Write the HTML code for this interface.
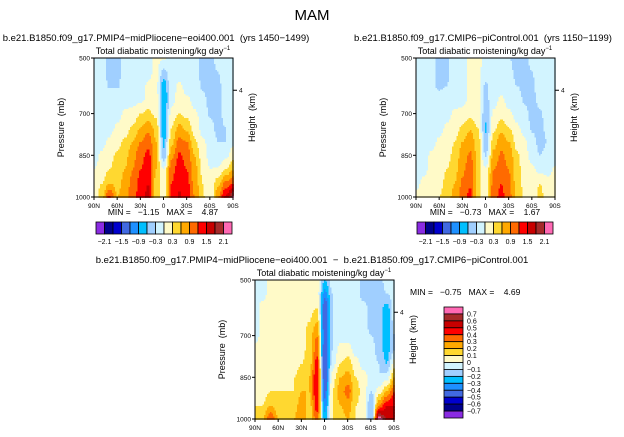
<!DOCTYPE html>
<html><head><meta charset="utf-8"><style>
html,body{margin:0;padding:0;background:#fff;}
svg{display:block;font-family:"Liberation Sans",sans-serif;}
text{white-space:pre;}
</style></head><body>
<svg id="s" width="624" height="437" viewBox="0 0 624 437" xmlns="http://www.w3.org/2000/svg">
<text x="312" y="20" font-size="15" text-anchor="middle">MAM</text>
<text x="156" y="41" font-size="9.5" text-anchor="middle">b.e21.B1850.f09_g17.PMIP4−midPliocene−eoi400.001  (yrs 1450−1499)</text>
<text x="163" y="54" font-size="9" text-anchor="middle">Total diabatic moistening/kg day<tspan font-size="6" dy="-4">−1</tspan></text>
<text x="483" y="41" font-size="9.5" text-anchor="middle">b.e21.B1850.f09_g17.CMIP6−piControl.001  (yrs 1150−1199)</text>
<text x="485" y="54" font-size="9" text-anchor="middle">Total diabatic moistening/kg day<tspan font-size="6" dy="-4">−1</tspan></text>
<text x="312" y="263" font-size="9.5" text-anchor="middle">b.e21.B1850.f09_g17.PMIP4−midPliocene−eoi400.001  −  b.e21.B1850.f09_g17.CMIP6−piControl.001</text>
<text x="324" y="276" font-size="9" text-anchor="middle">Total diabatic moistening/kg day<tspan font-size="6" dy="-4">−1</tspan></text>
<text x="163" y="215" font-size="8.5" text-anchor="middle">MIN =   −1.15   MAX =    4.87</text>
<text x="485" y="215" font-size="8.5" text-anchor="middle">MIN =   −0.73   MAX =    1.67</text>
<text x="410" y="295" font-size="8.5">MIN =   −0.75   MAX =    4.69</text>
</svg>
<script>
const lats=["90N","60N","30N","0","30S","60S","90S"];
const presTicks=[500,700,850,1000];
const levels1=[-2.1,-1.8,-1.5,-1.2,-0.9,-0.6,-0.3,0,0.3,0.6,0.9,1.2,1.5,1.8,2.1];
const levels3=[-0.7,-0.6,-0.5,-0.4,-0.3,-0.2,-0.1,0,0.1,0.2,0.3,0.4,0.5,0.6,0.7];
const cbLabels1=["−2.1","−1.5","−0.9","−0.3","0.3","0.9","1.5","2.1"];
const cbLabels3=["−0.7","−0.6","−0.5","−0.4","−0.3","−0.2","−0.1","0","0.1","0.2","0.3","0.4","0.5","0.6","0.7"];
const colors=["#8a2be2","#00008b","#0000cd","#4169e1","#1e90ff","#00bfff","#a0cfff","#d2f4ff","#fffac8","#ffd830","#ffa800","#ff6a00","#ff0000","#c80000","#a52a2a","#ff69b4"];
// rows: 500,550,...,1000 mb ; cols: 90N..90S every 10 deg
const field1=[
[-0.1,-0.2,-0.4,-0.4,-0.2,-0.1,-0.1,-0.1,0.1,0.05,-0.1,-0.1,-0.1,-0.2,-0.4,-0.4,-0.2,-0.1,-0.1],
[-0.1,-0.2,-0.4,-0.4,-0.2,-0.1,-0.1,-0.1,0.1,-0.4,-0.1,-0.1,-0.1,-0.2,-0.4,-0.4,-0.3,-0.1,-0.1],
[-0.1,-0.1,-0.35,-0.35,-0.1,-0.1,-0.1,0.05,0.1,-0.8,-0.1,0.05,-0.1,-0.1,-0.35,-0.4,-0.4,-0.1,-0.1],
[-0.1,-0.1,-0.1,-0.1,-0.1,-0.1,-0.1,0.1,0.15,-0.9,-0.1,0.1,0.05,-0.1,-0.2,-0.4,-0.4,-0.2,-0.1],
[-0.1,-0.1,-0.1,-0.1,0.05,0.1,0.3,0.4,0.2,-0.8,0.1,0.3,0.2,0.05,-0.1,-0.35,-0.4,-0.2,-0.1],
[-0.1,-0.1,-0.1,0.05,0.15,0.35,0.6,0.8,0.5,-0.8,0.3,0.7,0.5,0.15,-0.1,-0.2,-0.4,-0.3,-0.1],
[-0.1,-0.1,0.05,0.2,0.35,0.6,0.9,1.1,0.6,-0.7,0.5,1.0,0.9,0.35,0.05,-0.1,-0.3,-0.3,-0.1],
[-0.1,0.05,0.2,0.35,0.5,0.8,1.1,1.3,0.7,-0.5,0.8,1.25,1.1,0.6,0.15,-0.1,-0.2,-0.1,0.2],
[0.0,0.1,0.3,0.45,0.6,0.9,1.2,1.4,0.6,0.0,1.1,1.35,1.2,0.7,0.25,0.0,0.05,0.3,0.6],
[0.05,0.3,0.6,0.5,0.7,1.0,1.3,1.5,0.5,0.15,1.2,1.45,1.3,0.8,0.3,0.0,0.5,1.0,1.2],
[0.05,0.5,1.3,0.6,0.8,1.1,1.35,1.6,0.4,0.2,1.25,1.55,1.35,0.9,0.35,0.0,0.9,1.6,2.2]];
const field2=[
[-0.1,-0.1,-0.2,-0.4,-0.35,-0.1,-0.1,0.05,0.1,-0.1,-0.1,-0.1,-0.3,-0.4,-0.4,-0.2,-0.1,-0.1,-0.1],
[-0.1,-0.1,-0.2,-0.4,-0.35,-0.1,-0.1,0.05,0.1,-0.2,-0.1,-0.1,-0.2,-0.4,-0.4,-0.3,-0.1,-0.1,-0.1],
[-0.1,-0.1,-0.2,-0.4,-0.3,-0.1,-0.1,0.05,0.1,-0.35,-0.1,-0.1,-0.1,-0.3,-0.4,-0.35,-0.1,-0.1,-0.1],
[-0.1,-0.1,-0.1,-0.1,-0.1,-0.1,-0.1,0.05,0.1,-0.4,-0.1,0.05,-0.1,-0.1,-0.35,-0.4,-0.2,-0.1,-0.1],
[-0.1,-0.1,-0.1,-0.1,-0.1,0.05,0.1,0.2,0.1,-0.5,0.05,0.15,0.05,-0.1,-0.2,-0.4,-0.35,-0.1,-0.1],
[-0.1,-0.1,-0.1,-0.1,0.05,0.15,0.35,0.55,0.3,-0.65,0.2,0.5,0.3,0.05,-0.1,-0.35,-0.4,-0.2,-0.1],
[-0.1,-0.1,-0.1,0.05,0.1,0.3,0.6,0.8,0.45,-0.5,0.45,0.8,0.6,0.2,0.05,-0.2,-0.4,-0.3,-0.1],
[-0.1,-0.1,0.05,0.1,0.2,0.4,0.75,0.95,0.5,-0.35,0.7,0.95,0.8,0.35,0.1,-0.1,-0.3,-0.2,-0.1],
[-0.1,-0.05,0.05,0.15,0.3,0.5,0.85,1.05,0.45,0.05,0.9,1.05,0.9,0.45,0.15,0.05,-0.1,-0.1,0.05],
[-0.05,0.05,0.1,0.2,0.4,0.6,0.95,1.15,0.4,0.1,1.0,1.2,0.95,0.5,0.2,0.1,0.3,0.1,0.1],
[0.05,0.05,0.15,0.3,0.5,0.7,1.05,1.3,0.35,0.15,1.1,1.3,1.0,0.55,0.25,0.1,0.4,0.15,0.1]];
const field3=[
[-0.05,-0.05,0.05,0.05,0.05,0.05,0.05,0.05,0.05,-0.2,-0.05,-0.05,-0.05,-0.05,-0.15,-0.15,-0.15,-0.05,-0.05],
[-0.05,-0.05,0.05,0.05,0.05,0.05,0.05,0.05,0.05,-0.35,-0.1,-0.05,-0.05,-0.05,-0.15,-0.15,-0.15,-0.1,-0.05],
[-0.05,0.05,0.05,0.05,0.05,0.05,0.05,0.05,0.1,-0.5,-0.1,-0.05,-0.05,-0.05,-0.05,-0.15,-0.15,-0.25,-0.05],
[-0.05,0.05,0.05,0.05,0.05,0.05,0.05,0.1,0.2,-0.5,-0.1,-0.05,-0.05,-0.05,-0.05,-0.15,-0.15,-0.3,-0.05],
[-0.05,0.05,0.05,0.05,0.05,0.05,0.05,0.15,0.3,-0.45,-0.1,-0.05,-0.05,-0.05,-0.05,-0.1,-0.15,-0.3,-0.1],
[0.05,0.05,0.05,0.05,0.05,0.05,0.05,0.15,0.35,-0.5,-0.1,0.05,0.05,-0.05,-0.05,-0.05,-0.15,-0.25,-0.1],
[0.05,0.05,0.05,0.05,0.05,0.05,0.1,0.15,0.45,-0.5,-0.05,0.1,0.15,0.05,-0.05,-0.05,-0.1,-0.2,0.05],
[0.05,0.05,0.1,0.05,0.05,0.1,0.15,0.2,0.5,-0.5,0.05,0.2,0.25,0.1,0.05,-0.05,-0.1,-0.05,0.2],
[0.1,0.05,0.1,0.1,0.1,0.1,0.2,0.2,0.5,-0.45,0.1,0.25,0.35,0.15,0.05,-0.1,0.05,0.2,0.4],
[0.1,0.1,0.2,0.15,0.1,0.15,0.25,0.15,0.45,-0.35,0.1,0.2,0.25,0.1,0.05,-0.2,0.3,0.5,0.5],
[0.15,0.2,0.4,0.2,0.1,0.2,0.3,0.1,0.35,-0.25,0.1,0.15,0.2,0.1,0.05,-0.2,0.8,0.6,0.6]];

const NS="http://www.w3.org/2000/svg";
const svg=document.getElementById('s');
function mk(tag,attrs,parent){const e=document.createElementNS(NS,tag);for(const k in attrs)e.setAttribute(k,attrs[k]);(parent||svg).appendChild(e);return e;}
function colorFor(v,lev){let i=0;while(i<lev.length&&v>=lev[i])i++;return colors[i];}
function sm(t){return t*t*(3-2*t);}
function sample(f,fx,fy){const nc=f[0].length-1,nr=f.length-1;const x=fx*nc,y=fy*nr;const i=Math.min(Math.floor(x),nc-1),j=Math.min(Math.floor(y),nr-1);const tx=sm(x-i),ty=y-j;return f[j][i]*(1-tx)*(1-ty)+f[j][i+1]*tx*(1-ty)+f[j+1][i]*(1-tx)*ty+f[j+1][i+1]*tx*ty;}
function panel(id,f,lev,x0,y0,w,h){
  const g=mk('g',{});
  
  
  const step=1.5,nx=Math.ceil(w/step),ny=Math.ceil(h/step);
  for(let r=0;r<ny;r++){let start=0,cur=null;
    for(let c=0;c<=nx;c++){let col=null;if(c<nx){col=colorFor(sample(f,(c+0.5)/nx,(r+0.5)/ny),lev);}
      if(col!==cur){if(cur!==null){mk('rect',{x:x0+start*step,y:y0+r*step,width:(c-start)*step+0.4,height:step+0.4,fill:cur},g);}start=c;cur=col;}}}
  const fr=mk('rect',{x:x0,y:y0,width:w,height:h,fill:'none',stroke:'#000','stroke-width':1});
  
  
  const xs=v=>x0+w*v/(lats.length-1);
  const ys=p=>y0+h*(p-500)/500;
  lats.forEach((l,i)=>{mk('line',{x1:xs(i),x2:xs(i),y1:y0+h,y2:y0+h+3,stroke:'#000'});
    const t=mk('text',{x:xs(i),y:y0+h+11,'font-size':6.5,'text-anchor':'middle'});t.textContent=l;
    
    });
  presTicks.forEach(p=>{mk('line',{x1:x0-3,x2:x0,y1:ys(p),y2:ys(p),stroke:'#000'});
    const t=mk('text',{x:x0-4,y:ys(p)+2.5,'font-size':6.5,'text-anchor':'end'});t.textContent=p;
    
    });
  mk('line',{x1:x0+w,x2:x0+w+4,y1:ys(616),y2:ys(616),stroke:'#000'});
  const t4=mk('text',{x:x0+w+6,y:ys(616)+2.5,'font-size':6.5});t4.textContent='4';
  
  
  const yl=mk('text',{x:0,y:0,'font-size':9,'text-anchor':'middle',transform:`translate(${x0-30},${y0+h/2}) rotate(-90)`});yl.textContent='Pressure  (mb)';
  
  
  const yr=mk('text',{x:0,y:0,'font-size':9,'text-anchor':'middle',transform:`translate(${x0+w+22},${y0+h/2-10}) rotate(-90)`});yr.textContent='Height  (km)';
  
  
}
panel('panel1',field1,levels1,94,58,139,139);
panel('panel2',field2,levels1,416,58,139,139);
panel('panel3',field3,levels3,255,280,139,139);

function hbar(id,x0,y0,w,h){const bw=w/colors.length;
  colors.forEach((c,i)=>{const r=mk('rect',{x:x0+i*bw,y:y0,width:bw,height:h,fill:c,stroke:'#000','stroke-width':0.8});
    
    });
  cbLabels1.forEach((l,i)=>{const t=mk('text',{x:x0+bw*(1+2*i),y:y0+h+10,'font-size':7,'text-anchor':'middle'});t.textContent=l;
    
    });}
hbar('colorbar1',96,222,136,12);
hbar('colorbar2',417,222,136,12);
(function(){const x0=444,y0=307,w=19,h=111,bh=h/colors.length;
  colors.slice().reverse().forEach((c,i)=>{const r=mk('rect',{x:x0,y:y0+i*bh,width:w,height:bh,fill:c,stroke:'#000','stroke-width':0.8});
    
    });
  cbLabels3.slice().reverse().forEach((l,i)=>{const t=mk('text',{x:x0+w+4,y:y0+bh*(i+1)+2.5,'font-size':7});t.textContent=l;
    
    });})();
</script>
</body></html>
